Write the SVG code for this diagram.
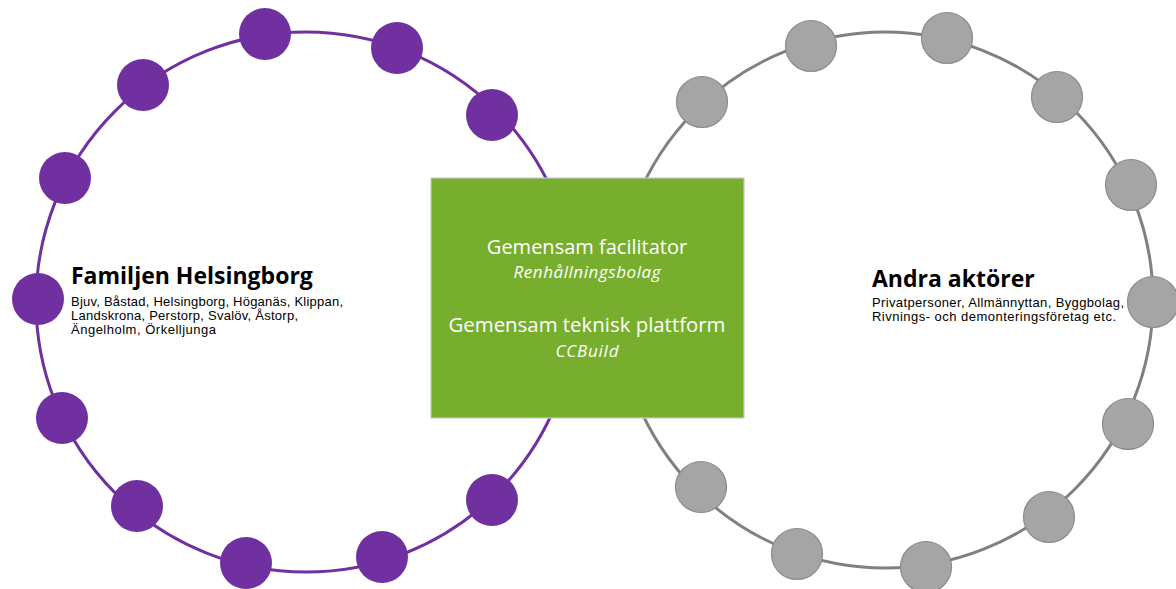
<svg xmlns="http://www.w3.org/2000/svg" width="1176" height="589" viewBox="0 0 1176 589">
<style>
.ringP{fill:none;stroke:#7030A0;stroke-width:3}
.ringG{fill:none;stroke:#808080;stroke-width:3}
.nP{fill:#7030A0}
.nG{fill:#A5A5A5;stroke:#8C8C8C;stroke-width:1.2}
.t{font-family:"Open Sans","Noto Sans",sans-serif}
.title{font-weight:bold;font-size:23px;fill:#000}
.sub{font-family:"Liberation Sans",Arial,sans-serif;font-size:13px;fill:#000}
.w{fill:#fff;text-anchor:middle}
</style>
<rect width="1176" height="589" fill="#fff"/>
<g id="connectors">
<circle class="ringP" cx="306" cy="302" r="270"/>
<circle class="ringG" cx="885" cy="300" r="268"/>
</g>
<g id="familjen-nodes">
<circle class="nP" cx="265" cy="34" r="26"/>
<circle class="nP" cx="397" cy="48" r="26"/>
<circle class="nP" cx="492" cy="115" r="26"/>
<circle class="nP" cx="143" cy="85" r="26"/>
<circle class="nP" cx="65" cy="178" r="26"/>
<circle class="nP" cx="38" cy="299" r="26"/>
<circle class="nP" cx="62" cy="418" r="26"/>
<circle class="nP" cx="137" cy="506" r="26"/>
<circle class="nP" cx="246" cy="563" r="26"/>
<circle class="nP" cx="382" cy="557" r="26"/>
<circle class="nP" cx="492" cy="500" r="26"/>
</g>
<g id="andra-nodes">
<circle class="nG" cx="702" cy="102" r="25.5"/>
<circle class="nG" cx="811" cy="46" r="25.5"/>
<circle class="nG" cx="947" cy="38" r="25.5"/>
<circle class="nG" cx="1057" cy="97" r="25.5"/>
<circle class="nG" cx="1131" cy="185" r="25.5"/>
<circle class="nG" cx="1153" cy="302" r="25.5"/>
<circle class="nG" cx="1128" cy="424" r="25.5"/>
<circle class="nG" cx="1049" cy="517" r="25.5"/>
<circle class="nG" cx="926" cy="567" r="25.5"/>
<circle class="nG" cx="797" cy="554" r="25.5"/>
<circle class="nG" cx="701" cy="487" r="25.5"/>
</g>
<g id="center-box">
<rect x="431" y="178" width="313" height="240" fill="#78AE2E" stroke="#C8C8C8" stroke-width="1.2"/>
<text class="t w" x="587" y="254" font-size="20">Gemensam facilitator</text>
<text class="t w" x="587" y="278" font-size="17" font-style="italic" textLength="147">Renhållningsbolag</text>
<text class="t w" x="587" y="332" font-size="20.4">Gemensam teknisk plattform</text>
<text class="t w" x="587" y="357" font-size="17" font-style="italic" textLength="63">CCBuild</text>
</g>
<g id="familjen-label">
<text class="t title" x="71" y="284">Familjen Helsingborg</text>
<text class="sub" x="71" y="306" textLength="272">Bjuv, Båstad, Helsingborg, Höganäs, Klippan,</text>
<text class="sub" x="71" y="320" textLength="227">Landskrona, Perstorp, Svalöv, Åstorp,</text>
<text class="sub" x="71" y="334" textLength="145">Ängelholm, Örkelljunga</text>
</g>
<g id="andra-label">
<text class="t title" x="872" y="287">Andra aktörer</text>
<text class="sub" x="872" y="307" textLength="252">Privatpersoner, Allmännyttan, Byggbolag,</text>
<text class="sub" x="872" y="321" textLength="244">Rivnings- och demonteringsföretag etc.</text>
</g>
</svg>
